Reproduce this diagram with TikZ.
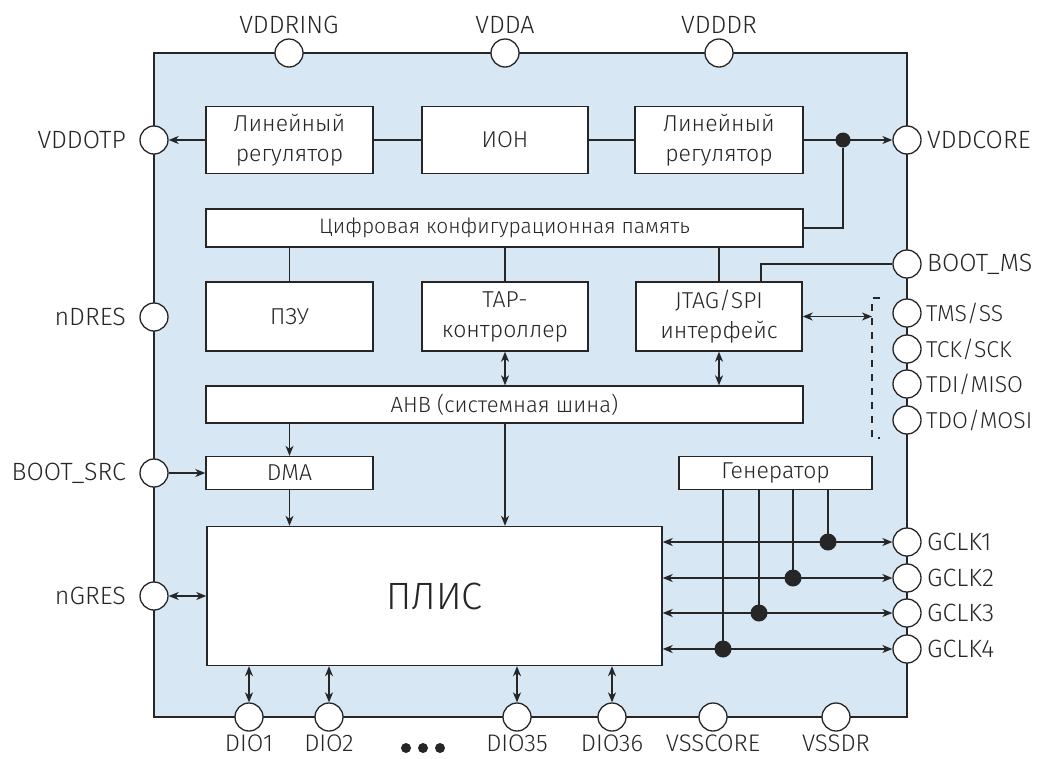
\documentclass[tikz,border=0pt]{standalone}
\usepackage{fontspec}
\setmainfont{Fira Sans Light}
\usetikzlibrary{arrows.meta}
\definecolor{chipbg}{HTML}{D7E7F4}
\definecolor{ink}{HTML}{262626}

\begin{document}
\begin{tikzpicture}[x=1pt, y=-1pt, every node/.style={font=\fontsize{23}{30}\selectfont, text=ink},
    >={Stealth[length=10pt,width=8pt,inset=3pt]}]
  \tikzstyle{blk}=[draw=ink,fill=white,line width=1.4pt,align=center,inner sep=0pt]
  \tikzstyle{pin}=[circle,draw=ink,fill=white,line width=1.3pt,minimum size=28pt,inner sep=0pt]
  \tikzstyle{lbl}=[inner sep=0pt,font=\fontsize{25}{28}\selectfont]
  \tikzstyle{wire}=[draw=ink,line width=1.3pt]
  \tikzstyle{dot}=[circle,fill=ink,inner sep=0pt,minimum size=17pt]
  \useasboundingbox (0,0) rectangle (1040,758);
  \node[draw=ink,fill=chipbg,line width=1.3pt,minimum width=753pt,minimum height=664pt,inner sep=0pt] (chip) at (530.5,385) {};

  % blocks
  \node[blk,minimum width=167pt,minimum height=67pt] (lr1) at (289.5,140) {Линейный\\регулятор};
  \node[blk,minimum width=166pt,minimum height=67pt] (ion) at (505,140) {ИОН};
  \node[blk,minimum width=168pt,minimum height=67pt] (lr2) at (719,140) {Линейный\\регулятор};
  \node[blk,minimum width=597pt,minimum height=38pt,font=\fontsize{21}{24}\selectfont] (mem) at (504.5,228) {Цифровая конфигурационная память};
  \node[blk,minimum width=167pt,minimum height=69pt] (rom) at (289.5,316.5) {ПЗУ};
  \node[blk,minimum width=166pt,minimum height=69pt] (tap) at (505,316.5) {TAP-\\контроллер};
  \node[blk,minimum width=166pt,minimum height=69pt] (jtag) at (719,316.5) {JTAG/SPI\\интерфейс};
  \node[blk,minimum width=597pt,minimum height=37pt,font=\fontsize{22}{24}\selectfont] (ahb) at (504.5,404.5) {АНВ (системная шина)};
  \node[blk,minimum width=167pt,minimum height=33pt] (dma) at (289.5,473) {DMA};
  \node[blk,minimum width=193pt,minimum height=33pt] (gen) at (775.5,473) {Генератор};
  \node[blk,minimum width=455pt,minimum height=139pt,font=\fontsize{38}{40}\selectfont] (fpga) at (434.5,596) {ПЛИС};

  % pins
  \foreach \p/\x/\t in {vddring/289/VDDRING, vdda/505/VDDA, vdddr/719/VDDDR} {
    \node[pin] (\p) at (\x,53) {};
    \node[lbl] (t\p) at (\x,25) {\t};
  }
  \foreach \p/\y/\t in {vddotp/140/VDDOTP, ndres/317/nDRES, bootsrc/473/BOOT\_SRC, ngres/596/nGRES} {
    \node[pin] (\p) at (154,\y) {};
    \node[lbl,anchor=east] (t\p) at (126,\y) {\t};
  }
  \foreach \p/\y/\t in {vddcore/140/VDDCORE, bootms/264/BOOT\_MS, gclk1/542/GCLK1, gclk2/578/GCLK2, gclk3/613/GCLK3, gclk4/649/GCLK4} {
    \node[pin] (\p) at (907,\y) {};
    \node[lbl,anchor=west] (t\p) at (927,\y) {\t};
  }
  \foreach \p/\y/\t in {tms/313/{TMS/SS}, tck/349/{TCK/SCK}, tdi/384/{TDI/MISO}, tdo/420/{TDO/MOSI}} {
    \node[pin] (\p) at (907,\y) {};
    \node[lbl,anchor=west,font=\fontsize{23}{26}\selectfont] (t\p) at (926,\y) {\t};
  }
  \foreach \p/\x/\t in {dio1/249/DIO1, dio2/329/DIO2, dio35/517/DIO35, dio36/612/DIO36, vsscore/713/VSSCORE, vssdr/836/VSSDR} {
    \node[pin] (\p) at (\x,717) {};
    \node[lbl,anchor=base,text depth=0pt,font=\fontsize{24}{26}\selectfont] (t\p) at (\x,751) {\t};
  }
  \foreach \x in {406,423,440} \fill[ink] (\x,748) circle (5pt);

  % power
  \draw[wire,->] (lr1) -- (vddotp);
  \draw[wire] (lr1) -- (ion) -- (lr2);
  \draw[wire,->] (lr2) -- (vddcore);
  \node[dot,minimum size=15pt] (jcore) at (843,140) {};
  \draw[wire] (jcore) |- (mem.east);

  % config memory and bus
  \draw[wire] (rom) -- (rom |- mem.south);
  \draw[wire] (tap) -- (tap |- mem.south);
  \draw[wire] (jtag) -- (jtag |- mem.south);
  \draw[wire] (bootms) -| ([xshift=42pt]jtag.north);
  \draw[wire,<->] (jtag.east) -- (872,316.5);
  \draw[wire,dash pattern=on 7pt off 7pt] (880,298) -- (872,298) -- (872,438) -- (880,438);
  \draw[wire,<->] (tap) -- (tap |- ahb.north);
  \draw[wire,<->] (jtag) -- (jtag |- ahb.north);
  \draw[wire,->] (dma |- ahb.south) -- (dma);
  \draw[wire,->] (tap |- ahb.south) -- (tap |- fpga.north);
  \draw[wire,->] (bootsrc) -- (dma);
  \draw[wire,->] (dma) -- (dma |- fpga.north);
  \draw[wire,<->] (ngres) -- (fpga.west |- ngres);

  % IO
  \foreach \p in {dio1,dio2,dio35,dio36}
    \draw[wire,<->] (\p |- fpga.south) -- (\p);

  % clocks
  \foreach \p/\x in {gclk1/828, gclk2/793, gclk3/759, gclk4/723} {
    \draw[wire,<->] (fpga.east |- \p) -- (\p);
    \draw[wire] (\x,0 |- gen.south) -- (\x,0 |- \p);
    \node[dot] (j\p) at (\x,0 |- \p) {};
  }
\end{tikzpicture}
\end{document}
